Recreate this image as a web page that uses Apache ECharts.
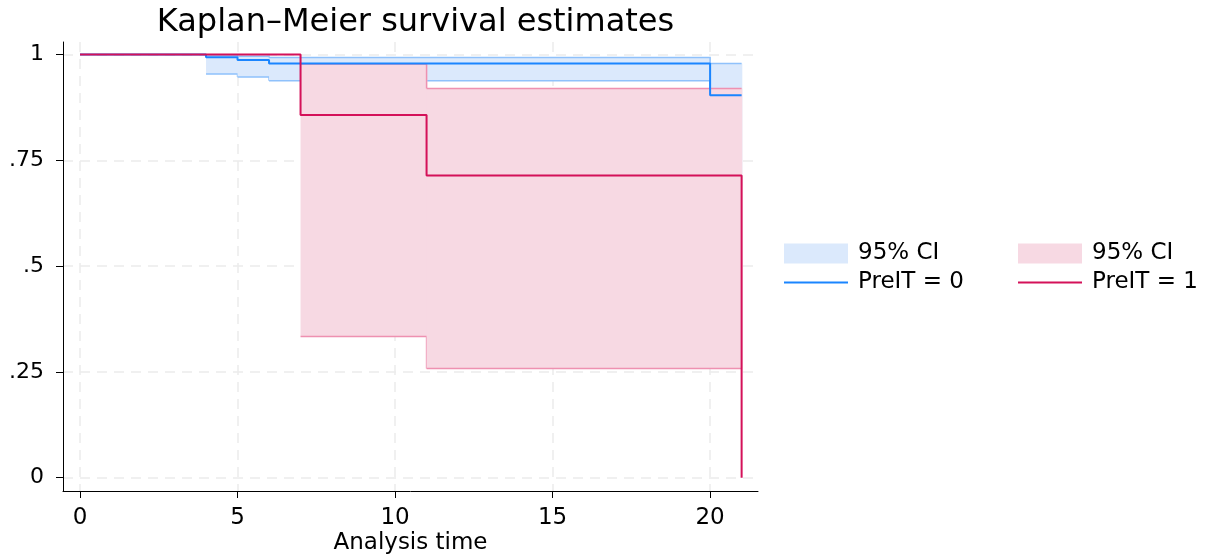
<!DOCTYPE html>
<html>
<head>
<meta charset="utf-8">
<script src="https://cdn.jsdelivr.net/npm/echarts@6/dist/echarts.min.js"></script>
<style>html,body{margin:0;padding:0;background:#fff}#c{width:1210px;height:554px}</style>
</head>
<body>
<div id="c"></div>
<script>
// Group PreIT = 0
const times0 = [0, 4, 5, 6, 20, 21];
const surv0 = [1, 0.994, 0.987, 0.979, 0.904, 0.904];
const ciTimes0 = [4, 5, 6, 20, 21];
const lower0 = [0.954, 0.947, 0.9385, 0.69, 0.69];
const upper0 = [0.999, 0.996, 0.993, 0.979, 0.979];
// Group PreIT = 1
const times1 = [0, 7, 11, 21];
const surv1 = [1, 0.857, 0.714, 0];
const ciTimes1 = [7, 11, 21];
const lower1 = [0.334, 0.258, 0.258];
const upper1 = [0.978, 0.920, 0.920];
// Axis ticks
const xTicks = [0, 5, 10, 15, 20];
const yTicks = [0, 0.25, 0.5, 0.75, 1];
const yTickLabels = ['0', '.25', '.5', '.75', '1'];

const FONT = 'DejaVu Sans, sans-serif';
const blue = '#1a85ff', red = '#d41159';
const blueFill = '#dbe9fc', blueEdge = '#8fc1fb';
const pinkFill = '#f7d9e3', pinkEdge = '#ee91b1';

const pairs = (xs, ys) => xs.map((x, i) => [x, ys[i]]);
// band segments: [start, end, lower, upper, nextLower, nextUpper]
const segments = (xs, lo, hi) => xs.slice(0, -1).map((x, i) => [x, xs[i + 1], lo[i], hi[i], lo[i + 1], hi[i + 1]]);

const bandRender = (fill, edge) => (params, api) => {
  const x0 = api.value(0), x1 = api.value(1);
  const lo = api.value(2), hi = api.value(3), loN = api.value(4), hiN = api.value(5);
  const p0 = api.coord([x0, hi]);
  const p1 = api.coord([x1, lo]);
  return {
    type: 'group',
    children: [
      {
        type: 'rect',
        shape: {x: p0[0], y: p0[1], width: p1[0] - p0[0] + 0.7, height: p1[1] - p0[1]},
        style: {fill: fill, stroke: null}
      },
      {
        type: 'polyline',
        shape: {points: [api.coord([x0, hi]), api.coord([x1, hi]), api.coord([x1, hiN])]},
        style: {stroke: edge, lineWidth: 1.5, fill: null}
      },
      {
        type: 'polyline',
        shape: {points: [api.coord([x0, lo]), api.coord([x1, lo]), api.coord([x1, loN])]},
        style: {stroke: edge, lineWidth: 1.5, fill: null}
      }
    ]
  };
};

const names = {CI0: '95% CI', Line0: 'PreIT = 0', CI1: '95% CI', Line1: 'PreIT = 1'};

const chart = echarts.init(document.getElementById('c'), null, {renderer: 'canvas'});
const legendBase = {
  top: 237, orient: 'vertical', itemWidth: 64, itemHeight: 20, itemGap: 6,
  selectedMode: false,
  textStyle: {fontFamily: FONT, fontSize: 23, color: '#000', padding: [0, 0, 0, 5]},
  formatter: n => names[n]
};
chart.setOption({
  animation: false,
  backgroundColor: '#fff',
  title: {
    text: 'Kaplan\u2013Meier survival estimates',
    left: 410.5, top: 2, textAlign: 'center',
    textStyle: {fontFamily: FONT, fontSize: 32, fontWeight: 'normal', color: '#000'}
  },
  grid: {left: 63, right: 452, top: 42, bottom: 63, containLabel: false, outerBoundsMode: 'none'},
  xAxis: {
    type: 'value', min: -0.54, max: 21.52,
    name: 'Analysis time', nameLocation: 'middle', nameGap: 41, nameMoveOverlap: false,
    nameTextStyle: {fontFamily: FONT, fontSize: 23, color: '#000', verticalAlign: 'top'},
    axisLine: {show: true, onZero: false, lineStyle: {color: '#000', width: 1}},
    axisTick: {show: true, length: 7, customValues: xTicks, lineStyle: {color: '#000'}},
    axisLabel: {customValues: xTicks, margin: 16, fontFamily: FONT, fontSize: 23, color: '#000'},
    splitLine: {show: true, lineStyle: {color: '#ebebeb', type: [10, 7], width: 1.5}}
  },
  yAxis: {
    type: 'value', min: -0.0314, max: 1.0298,
    axisLine: {show: true, onZero: false, lineStyle: {color: '#000', width: 1}},
    axisTick: {show: true, length: 7, customValues: yTicks, lineStyle: {color: '#000'}},
    axisLabel: {
      customValues: yTicks, margin: 19, fontFamily: FONT, fontSize: 22, color: '#000',
      formatter: v => { const i = yTicks.findIndex(t => Math.abs(t - v) < 1e-9); return i >= 0 ? yTickLabels[i] : ''; }
    },
    splitLine: {show: true, lineStyle: {color: '#ebebeb', type: [10, 7], width: 1.5}}
  },
  legend: [
    Object.assign({}, legendBase, {
      left: 778,
      data: [{name: 'CI0', icon: 'rect', itemStyle: {color: blueFill, borderWidth: 0}},
             {name: 'Line0', icon: 'inherit', itemStyle: {opacity: 0}}]
    }),
    Object.assign({}, legendBase, {
      left: 1012,
      data: [{name: 'CI1', icon: 'rect', itemStyle: {color: pinkFill, borderWidth: 0}},
             {name: 'Line1', icon: 'inherit', itemStyle: {opacity: 0}}]
    })
  ],
  series: [
    {
      name: 'CI0', type: 'custom', silent: true, color: blueFill, z: 2,
      encode: {x: [0, 1], y: [2, 3]},
      data: segments(ciTimes0, lower0, upper0), renderItem: bandRender(blueFill, blueEdge)
    },
    {
      name: 'CI1', type: 'custom', silent: true, color: pinkFill, z: 2,
      encode: {x: [0, 1], y: [2, 3]},
      data: segments(ciTimes1, lower1, upper1), renderItem: bandRender(pinkFill, pinkEdge)
    },
    {
      name: 'Line0', type: 'line', step: 'end', symbol: 'none', silent: true, color: blue, z: 3,
      data: pairs(times0, surv0), lineStyle: {color: blue, width: 2}
    },
    {
      name: 'Line1', type: 'line', step: 'end', symbol: 'none', silent: true, color: red, z: 3,
      data: pairs(times1, surv1), lineStyle: {color: red, width: 2}
    }
  ]
});
</script>
</body>
</html>
